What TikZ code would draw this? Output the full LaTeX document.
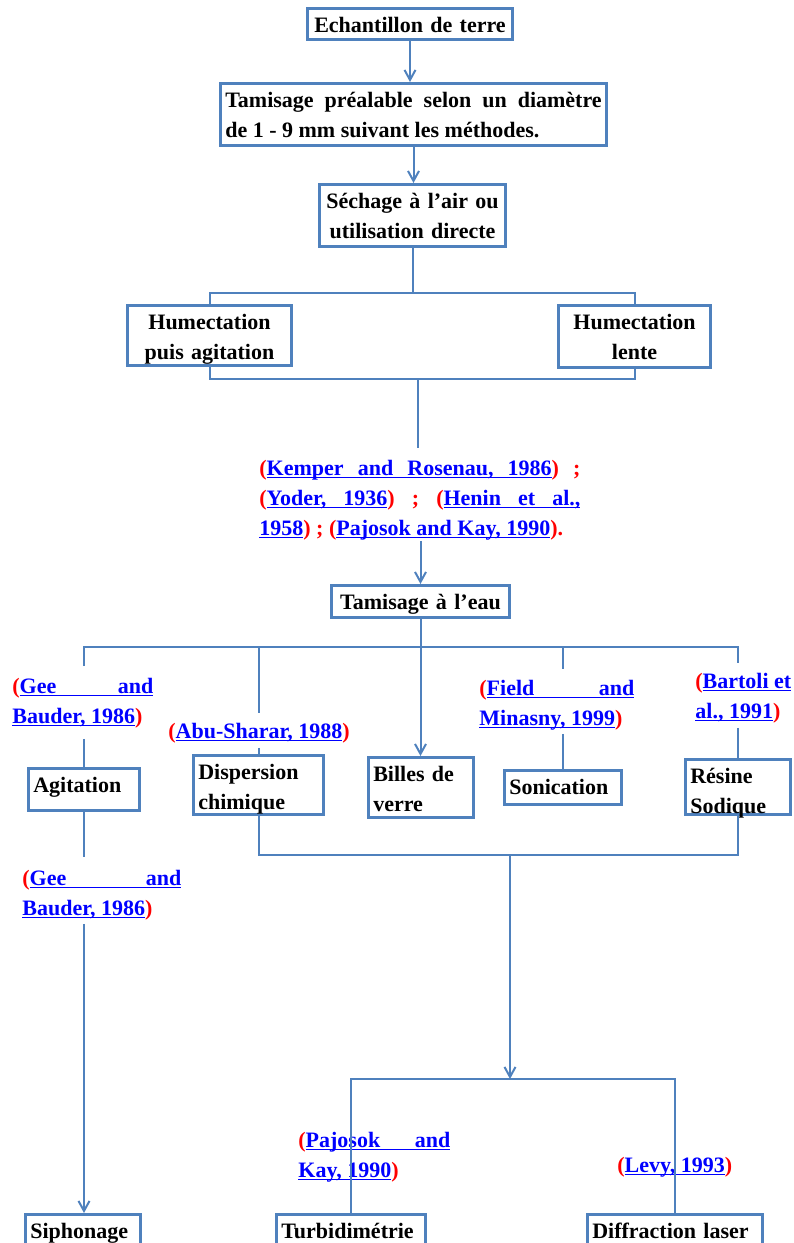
\documentclass[tikz,border=0pt]{standalone}
\usepackage{fontspec}
\setmainfont{Liberation Serif}
\usetikzlibrary{arrows.meta}

\definecolor{boxblue}{HTML}{4F81BD}
\definecolor{citered}{HTML}{FF0000}
\definecolor{citeblue}{HTML}{0000FF}

% underlined words with stretchable underlined spaces
\newsavebox{\ulbx}
\newcommand{\ulbox}[1]{\sbox{\ulbx}{#1}\rlap{\vrule height -0.8pt depth 1.3pt width \wd\ulbx}\usebox{\ulbx}}
\newcommand{\ulspace}{\leaders\vrule height -0.8pt depth 1.3pt\hskip\fontdimen2\font plus\fontdimen3\font minus\fontdimen4\font}
\makeatletter
\def\ulwords#1{\ulw@#1 \@nil}
\def\ulw@#1 #2\@nil{\ulbox{#1}\ifx\relax#2\relax\else\ulspace\ulw@#2\@nil\fi}
\makeatother

\newcommand{\rp}[1]{\textcolor{citered}{#1}}
\newcommand{\rl}[1]{\textcolor{citeblue}{\ulwords{#1}}}

\tikzset{
	box/.style={draw=boxblue, line width=1.5pt, inner xsep=2.5pt, inner ysep=0pt,
		text height=11.75pt, font=\fontsize{11}{15}\selectfont\bfseries},
	cite/.style={inner sep=0pt, anchor=north west,
		font=\fontsize{11}{15}\selectfont\bfseries},
	link/.style={draw=boxblue, line width=1pt},
	linkarrow/.style={link, -{Straight Barb[length=5pt, width=5.5pt]}},
}

\begin{document}
\frenchspacing
\begin{tikzpicture}[x=0.5pt, y=-0.5pt]

% frame %{{{2

	\useasboundingbox (0,0) rectangle (793,1243);
	\clip (0,0) rectangle (793,1243);

% boxes %{{{2

	\node[box, text width=97.2pt, align=center, text depth=3.75pt] (soil) at (410,24) {Echantillon de terre};
	\node[box, text width=188.2pt, align=justify, text depth=19.25pt] (sieve) at (413.5,114.5)
		{Tamisage préalable selon un diamètre\linebreak de 1 - 9 mm suivant les méthodes.};
	\node[box, text width=88.2pt, align=center, text depth=19.25pt] (dry) at (412.5,215.5)
		{Séchage à l’air ou\\utilisation directe};
	\node[box, text width=77.2pt, align=center, text depth=18.25pt] (wetA) at (209.5,335.5)
		{Humectation\\puis agitation};
	\node[box, text width=71.2pt, align=center, text depth=19.25pt] (wetB) at (634.5,336.5)
		{Humectation\\lente};
	\node[box, text width=84.2pt, align=center, text depth=4.25pt] (water) at (420.5,601.5) {Tamisage à l’eau};
	\node[box, text width=50.7pt, align=left, text depth=9.25pt] (agit) at (84,789.5) {Agitation};
	\node[box, text width=60.2pt, align=left, text depth=17.75pt] (disp) at (258.5,785) {Dispersion\\chimique};
	\node[box, text width=47.7pt, align=left, text depth=18.25pt] (glass) at (421,787.5) {Billes de\\verre};
	\node[box, text width=53.7pt, align=left, text depth=5.25pt] (sonic) at (563,787.5) {Sonication};
	\node[box, text width=47.7pt, align=left, text depth=15.75pt] (resin) at (738,787) {Résine\\Sodique};
	\node[box, text width=52.7pt, align=left, text depth=6.75pt] (siph) at (83,1233) {Siphonage};
	\node[box, text width=69.7pt, align=left, text depth=6.75pt] (turb) at (351,1233) {Turbidimétrie};
	\node[box, text width=82.7pt, align=left, text depth=6.75pt] (laser) at (675,1233) {Diffraction laser};

% references %{{{2

	\node[cite, text width=160.5pt, align=justify] (kemper) at (259,460)
		{\rp{(}\rl{Kemper and Rosenau, 1986}\rp{) ;}\linebreak
		\rp{(}\rl{Yoder, 1936}\rp{) ; (}\rl{Henin et al.,}\linebreak
		\rl{1958}\rp{) ; (}\rl{Pajosok and Kay, 1990}\rp{).}};
	\node[cite, text width=70.5pt, align=justify] (geeA) at (12,678)
		{\rp{(}\rl{Gee and}\linebreak\rl{Bauder, 1986}\rp{)}};
	\node[cite] (abu) at (168,723) {\rp{(}\rl{Abu-Sharar, 1988}\rp{)}};
	\node[cite, text width=77.5pt, align=justify] (field) at (479,680)
		{\rp{(}\rl{Field and}\linebreak\rl{Minasny, 1999}\rp{)}};
	\node[cite, align=left] (bartoli) at (695,673) {\rp{(}\rl{Bartoli et}\\\rl{al., 1991}\rp{)}};
	\node[cite, text width=79.5pt, align=justify] (geeB) at (22,870)
		{\rp{(}\rl{Gee and}\linebreak\rl{Bauder, 1986}\rp{)}};
	\node[cite, text width=76pt, align=justify] (paj) at (298,1132)
		{\rp{(}\rl{Pajosok and}\linebreak\rl{Kay, 1990}\rp{)}};
	\node[cite] (levy) at (617,1157) {\rp{(}\rl{Levy, 1993}\rp{)}};

% junctions %{{{2

	\coordinate (wetsplit) at (412.5,293);
	\coordinate (wetjoin) at (418,379);
	\coordinate (waterbar) at (420.5,647);
	\coordinate (mixbar) at (510,855);
	\coordinate (laserbar) at (510,1079);

% connectors %{{{2

	\draw[linkarrow] (soil.south) -- (soil.south |- sieve.north);
	\draw[linkarrow] (sieve.south) -- (sieve.south |- dry.north);
	\draw[link] (dry.south) -- (wetsplit);
	\draw[link] (wetA.north) |- (wetsplit) -| (wetB.north);
	\draw[link] (wetA.south) |- (wetjoin) -| (wetB.south);
	\draw[link, shorten >=6pt] (wetjoin) -- (wetjoin |- kemper.north);
	\draw[linkarrow] (kemper.south -| water.north) -- (water.north);
	\draw[link] (water.south) -- (waterbar);
	\draw[link, shorten <=6pt, shorten >=5pt] (agit |- geeA.north) |- (waterbar) -| (resin |- bartoli.north);
	\draw[link, shorten >=5pt] (disp |- waterbar) -- (disp |- abu.north);
	\draw[link, shorten >=5.5pt] (sonic |- waterbar) -- (sonic |- field.north);
	\draw[linkarrow] (waterbar) -- (waterbar |- glass.north);
	\draw[link, shorten <=5pt] (agit |- geeA.south) -- (agit.north);
	\draw[link, shorten <=2pt] (disp |- abu.south) -- (disp.north);
	\draw[link, shorten <=1.5pt] (sonic |- field.south) -- (sonic.north);
	\draw[link, shorten <=2pt] (resin |- bartoli.south) -- (resin.north);
	\draw[link, shorten >=6.5pt] (agit.south) -- (agit |- geeB.north);
	\draw[linkarrow, shorten <=1.5pt] (agit |- geeB.south) -- (agit |- siph.north);
	\draw[link] (disp.south) |- (mixbar) -| (resin.south);
	\draw[linkarrow] (mixbar) -- (laserbar);
	\draw[link] (turb.north) |- (laserbar) -| (laser.north);

\end{tikzpicture}
\end{document}
